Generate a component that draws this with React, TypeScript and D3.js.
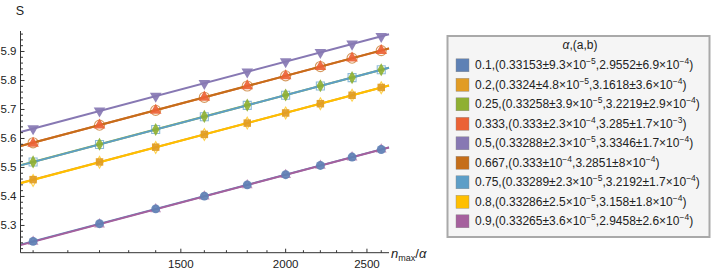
import React from "react";
import * as d3 from "d3";

// n_max / alpha values where the entropy was sampled
const nMax = [1000, 1200, 1400, 1600, 1800, 2000, 2200, 2400, 2600];

const alphas = ["0.1", "0.2", "0.25", "0.333", "0.5", "0.667", "0.75", "0.8", "0.9"];

// S values per alpha
const s01 = [5.245, 5.306, 5.357, 5.401, 5.44, 5.475, 5.507, 5.536, 5.562];
const s02 = [5.458, 5.519, 5.57, 5.614, 5.653, 5.688, 5.72, 5.749, 5.776];
const s025 = [5.519, 5.58, 5.631, 5.676, 5.715, 5.75, 5.782, 5.81, 5.837];
const s0333 = [5.583, 5.646, 5.697, 5.742, 5.781, 5.816, 5.848, 5.877, 5.903];
const s05 = [5.634, 5.695, 5.746, 5.79, 5.83, 5.865, 5.897, 5.926, 5.952];
const s0667 = [5.585, 5.646, 5.697, 5.742, 5.781, 5.816, 5.848, 5.877, 5.903];
const s075 = [5.519, 5.579, 5.631, 5.675, 5.714, 5.749, 5.781, 5.81, 5.837];
const s08 = [5.455, 5.518, 5.569, 5.614, 5.653, 5.688, 5.72, 5.749, 5.775];
const s09 = [5.244, 5.304, 5.356, 5.4, 5.439, 5.474, 5.506, 5.535, 5.562];

// fit S = a log(n) + b, from the legend
const fitA = ["0.33153", "0.3324", "0.33258", "0.333", "0.33288", "0.333", "0.33289", "0.33286", "0.33265"];
const fitAErr = ["9.3", "4.8", "3.9", "2.3", "2.3", "", "2.3", "2.5", "3.6"];
const fitAExp = ["−5", "−5", "−5", "−4", "−5", "−4", "−5", "−5", "−5"];
const fitB = ["2.9552", "3.1618", "3.2219", "3.285", "3.3346", "3.2851", "3.2192", "3.158", "2.9458"];
const fitBErr = ["6.9", "3.6", "2.9", "1.7", "1.7", "8", "1.7", "1.8", "2.6"];
const fitBExp = ["−4", "−4", "−4", "−3", "−4", "−4", "−4", "−4", "−4"];

const xMajor = [1500, 2000, 2500];
const yMajor = [5.3, 5.4, 5.5, 5.6, 5.7, 5.8, 5.9];

const colors = ["#5E81B5", "#E19C24", "#8FB032", "#EB6235", "#8778B3", "#C56E1A", "#5D9EC7", "#FFBF00", "#A5609D"];

const series = [s01, s02, s025, s0333, s05, s0667, s075, s08, s09];

const font = "'Liberation Sans', Arial, sans-serif";

const markerPath = (i: number) => {
  const shapes = [
    d3.symbolCircle, d3.symbolSquare, d3.symbolDiamond, d3.symbolTriangle, d3.symbolTriangle,
    d3.symbolCircle, d3.symbolSquare, d3.symbolDiamond, d3.symbolTriangle,
  ];
  const sizes = [62, 56, 50, 58, 58, 80, 64, 40, 34];
  return d3.symbol(shapes[i], sizes[i])() as string;
};

const App = () => {
  const width = 714;
  const height = 273;

  const x = d3.scaleLog().domain([966, 2656]).range([20.5, 389]);
  const y = d3.scaleLinear().domain([5.206, 5.97]).range([252.7, 31.2]);

  const x0 = x.range()[0];
  const yAxisY = y.range()[0];

  const fitLine = (i: number) => {
    const a = +fitA[i];
    const b = +fitB[i];
    const pts = x.domain().map((n) => [x(n), y(a * Math.log(n) + b)] as [number, number]);
    return d3.line()(pts) as string;
  };

  const xMinor = d3.range(1000, 2700, 100).filter((v) => xMajor.indexOf(v) < 0);
  const yMinor = d3.range(5.22, 5.97, 0.02).filter((v) => yMajor.every((m) => Math.abs(m - v) > 0.001));

  const rowH = 19.5;
  const legTop = 65.3;

  // open markers go underneath the filled ones
  const order = [5, 6, 7, 8, 0, 1, 2, 3, 4];

  return (
    <svg
      width={width}
      height={height}
      style={{ position: "absolute", left: 0, top: 0, background: "#fff" }}
      fontFamily={font}
    >
      {/* fit lines */}
      <g fill="none" strokeWidth={2}>
        {alphas.map((a, i) => (
          <path key={a} d={fitLine(i)} stroke={colors[i]} />
        ))}
      </g>

      {/* data points */}
      {order.map((i) => (
        <g key={alphas[i]}>
          {series[i].map((v, j) => (
            <path
              key={j}
              d={markerPath(i)}
              transform={`translate(${x(nMax[j])},${y(v)})${i === 4 ? " rotate(180)" : ""}`}
              fill={i < 5 ? colors[i] : "none"}
              stroke={colors[i]}
              strokeWidth={i < 5 ? 0 : 1.1}
              opacity={i < 5 ? 0.92 : 0.7}
            />
          ))}
        </g>
      ))}

      {/* axes */}
      <g stroke="#333" strokeWidth={1}>
        <line x1={x0} x2={x0} y1={31} y2={yAxisY} />
        <line x1={x0} x2={389} y1={yAxisY} y2={yAxisY} />
        {xMajor.map((v) => (
          <line key={v} x1={x(v)} x2={x(v)} y1={yAxisY} y2={yAxisY - 4} />
        ))}
        {xMinor.map((v) => (
          <line key={v} x1={x(v)} x2={x(v)} y1={yAxisY} y2={yAxisY - 2.5} />
        ))}
        {yMajor.map((v) => (
          <line key={v} x1={x0} x2={x0 + 4} y1={y(v)} y2={y(v)} />
        ))}
        {yMinor.map((v) => (
          <line key={v} x1={x0} x2={x0 + 2.5} y1={y(v)} y2={y(v)} />
        ))}
      </g>
      <g fontSize={11.5} fill="#222">
        {xMajor.map((v) => (
          <text key={v} x={x(v)} y={268} textAnchor="middle">
            {v}
          </text>
        ))}
        {yMajor.map((v) => (
          <text key={v} x={16.5} y={y(v) + 4} textAnchor="end">
            {v.toFixed(1)}
          </text>
        ))}
      </g>
      <text x={20} y={15} fontSize={12.5} textAnchor="middle" fill="#222">
        S
      </text>
      <text x={391} y={258} fontSize={13} fill="#222">
        <tspan fontStyle="italic">n</tspan>
        <tspan fontSize={9} dy={2.5}>max</tspan>
        <tspan dy={-2.5}>/</tspan>
        <tspan fontStyle="italic">α</tspan>
      </text>

      {/* legend */}
      <rect x={447.5} y={36} width={262} height={201} fill="#f5f5f5" stroke="#a9a9a9" strokeWidth={2} />
      <text x={580} y={48.5} fontSize={12} textAnchor="middle" fill="#222">
        <tspan fontStyle="italic">α</tspan>,(a,b)
      </text>
      {alphas.map((a, i) => {
        const cy = legTop + i * rowH;
        return (
          <g key={a}>
            <rect x={456} y={cy - 6.5} width={13} height={13} fill={colors[i]} stroke="#888" strokeWidth={0.4} />
            <text x={475} y={cy + 4} fontSize={12} fill="#222">
              {a},({fitA[i]}±{fitAErr[i] ? `${fitAErr[i]}×` : ""}10
              <tspan fontSize={8.5} dy={-5}>{fitAExp[i]}</tspan>
              <tspan dy={5}>,{fitB[i]}±{fitBErr[i]}×10</tspan>
              <tspan fontSize={8.5} dy={-5}>{fitBExp[i]}</tspan>
              <tspan dy={5}>)</tspan>
            </text>
          </g>
        );
      })}
    </svg>
  );
};

export default App;
